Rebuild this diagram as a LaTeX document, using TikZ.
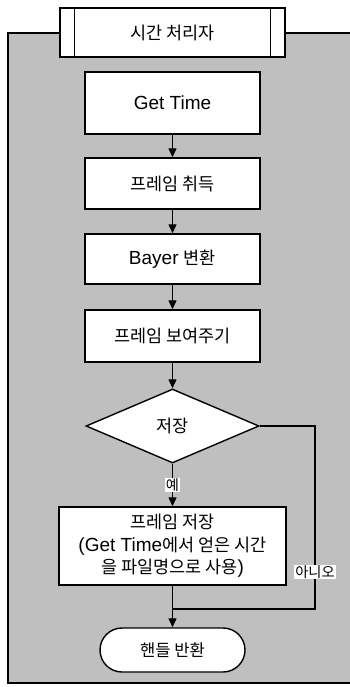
\documentclass[tikz,border=0pt]{standalone}
\usepackage{fontspec}
\setmainfont{Liberation Sans}
\newfontfamily\kr{Noto Sans CJK KR}[Scale=0.92]
\usetikzlibrary{shapes.geometric,shapes.misc,arrows.meta}
\begin{document}
\begin{tikzpicture}[x=1pt,y=-1pt,
  box/.style={draw,line width=1.4pt,fill=white,inner sep=0pt,align=center,font=\fontsize{19}{22.5}\selectfont},
  arr/.style={line width=1.2pt,-{Triangle[length=9pt,width=8pt]}},
  conn/.style={line width=1.2pt},
  lbl/.style={fill=white,inner sep=1pt,font=\fontsize{15.5}{17}\selectfont\kr}]
\useasboundingbox (0,0) rectangle (350,687);
\fill[black!25] (8,33) rectangle (350,683);
\draw[line width=1.4pt] (350,33) -- (8,33) -- (8,683) -- (350,683);
\draw[line width=2.4pt] (8,33) -- (8,683);

\node[box,minimum width=225pt,minimum height=49pt] (title) at (172.5,32.5) {\kr 시간 처리자};
\draw[line width=1.4pt] ([xshift=15pt]title.north west) -- ([xshift=15pt]title.south west);
\draw[line width=1.4pt] ([xshift=-15pt]title.north east) -- ([xshift=-15pt]title.south east);

\node[box,minimum width=175pt,minimum height=62pt] (gt) at (172.5,103) {Get Time};
\node[box,minimum width=175pt,minimum height=51pt] (fa) at (172.5,183.5) {\kr 프레임 취득};
\node[box,minimum width=175pt,minimum height=50pt] (bay) at (172.5,259) {Bayer {\kr 변환}};
\node[box,minimum width=175pt,minimum height=52pt] (show) at (172.5,336) {\kr 프레임 보여주기};
\node[box,diamond,minimum width=173pt,minimum height=74pt] (dec) at (172.5,426) {\kr 저장};
\node[box,minimum width=227pt,minimum height=78pt] (save) at (172.5,546) {{\kr 프레임 저장}\\(Get Time{\kr 에서 얻은 시간}\\{\kr 을 파일명으로 사용})};
\node[box,rounded rectangle,minimum width=145pt,minimum height=44pt,font=\fontsize{18}{20}\selectfont] (end) at (172.5,650) {\kr 핸들 반환};

\draw[arr] (gt) -- (fa);
\draw[arr] (fa) -- (bay);
\draw[arr] (bay) -- (show);
\draw[arr] (show) -- (dec);
\draw[arr] (dec.south) -- node[lbl] (yes) {예} (save.north);
\coordinate (jn) at (172.5,609);
\coordinate (nc) at (315,609);
\draw[conn] (dec.east) -| (nc) -- (jn);
\draw[conn] (save.south) -- (jn);
\draw[arr] (jn) -- (end.north);
\node[lbl] (no) at (315,572) {아니오};
\end{tikzpicture}
\end{document}
